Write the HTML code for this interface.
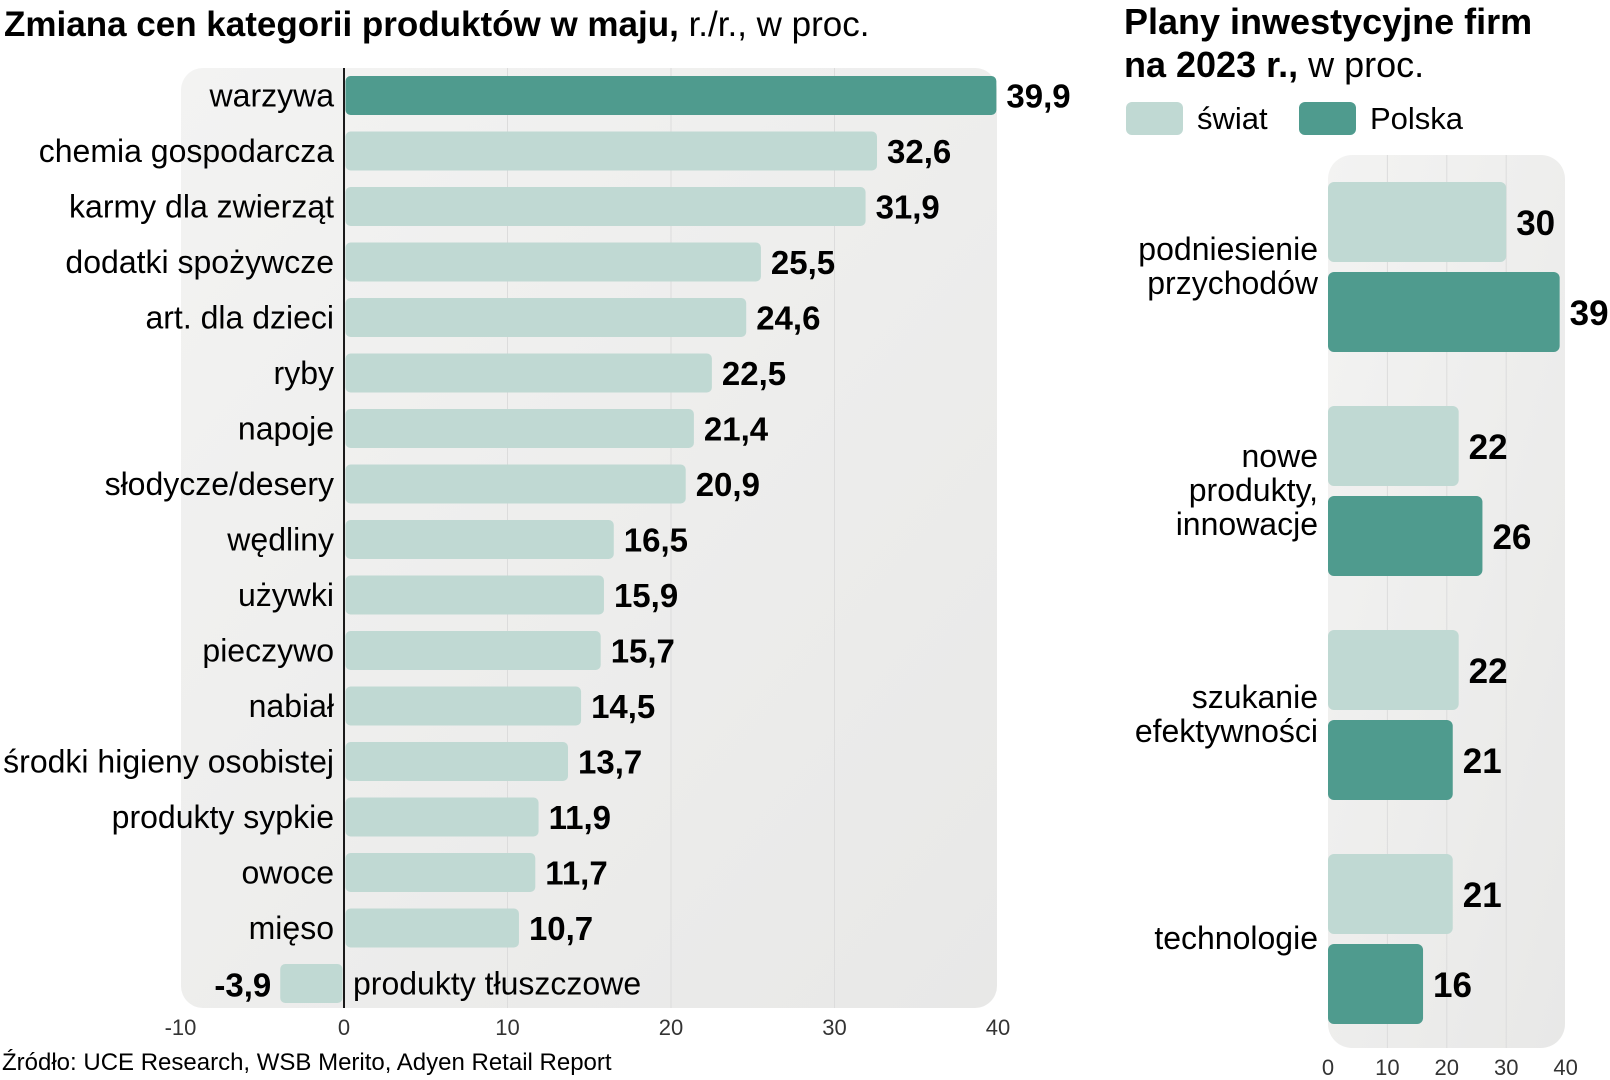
<!DOCTYPE html>
<html><head><meta charset="utf-8">
<style>
body{margin:0;width:1610px;height:1080px;background:#fff;overflow:hidden;font-family:"Liberation Sans",sans-serif;color:#1a1a1a}
svg{display:block}
.t{font-family:"Liberation Sans",sans-serif}
</style></head>
<body>
<svg id="c" width="1610" height="1080">
<defs>
<linearGradient id="bg" x1="0" y1="0" x2="1" y2="1"><stop offset="0" stop-color="#f3f3f2"/><stop offset="1" stop-color="#e8e8e7"/></linearGradient>
</defs>
<text x="4" y="36" font-size="35" font-weight="bold" class="t">Zmiana cen kategorii produktów w maju,<tspan font-weight="normal"> r./r., w proc.</tspan></text>
<rect x="181" y="68" width="816" height="940" rx="22" fill="url(#bg)"/>
<g id="L"></g>
<text x="2" y="1070" font-size="24" class="t">Źródło: UCE Research, WSB Merito, Adyen Retail Report</text>

<text x="1124" y="34" font-size="36" font-weight="bold" class="t">Plany inwestycyjne firm</text>
<text x="1124" y="77" font-size="36" font-weight="bold" class="t">na 2023 r.,<tspan font-weight="normal"> w proc.</tspan></text>
<rect x="1126" y="102" width="57" height="33" rx="6" fill="#c0d9d3"/>
<text x="1197" y="129" font-size="31" class="t">świat</text>
<rect x="1299" y="102" width="57" height="33" rx="6" fill="#4f9b8e"/>
<text x="1370" y="129" font-size="31" class="t">Polska</text>
<rect x="1328" y="155" width="237" height="893" rx="24" fill="url(#bg)"/>
<g id="R"></g>
</svg>
<script>
const cats=["warzywa","chemia gospodarcza","karmy dla zwierząt","dodatki spożywcze","art. dla dzieci","ryby","napoje","słodycze/desery","wędliny","używki","pieczywo","nabiał","środki higieny osobistej","produkty sypkie","owoce","mięso","produkty tłuszczowe"];
const vals=[39.9,32.6,31.9,25.5,24.6,22.5,21.4,20.9,16.5,15.9,15.7,14.5,13.7,11.9,11.7,10.7,-3.9];
const xTicks=[-10,0,10,20,30,40];
const rCats=[["podniesienie","przychodów"],["nowe","produkty,","innowacje"],["szukanie","efektywności"],["technologie"]];
const swiat=[30,22,22,21];
const polska=[39,26,21,16];
const rTicks=[0,10,20,30,40];

const NS="http://www.w3.org/2000/svg";
function mk(p,t,a,txt){const e=document.createElementNS(NS,t);for(const k in a)e.setAttribute(k,a[k]);if(txt!==undefined)e.textContent=txt;p.appendChild(e);return e;}
const fmt=v=>String(v).replace('.',',');
const L=document.getElementById('L');
const lx=v=>344+v*16.35;
const ly=i=>95.5+i*55.5;
xTicks.forEach(t=>{
 if(t!==0&&t>-10&&t<40){const g=mk(L,'line',{x1:lx(t),x2:lx(t),y1:68,y2:1008,stroke:'#dcdcdc','stroke-width':1});
 }
 const tl=mk(L,'text',{x:lx(t),y:1035,'font-size':22,'text-anchor':'middle',class:'t',fill:'#333'},t);
 
});
cats.forEach((c,i)=>{
 const v=vals[i],y=ly(i),h=39;
 const x0=Math.min(lx(0),lx(v))+(v>=0?1.5:0),w=Math.abs(lx(v)-lx(0))-1.5;
 const b=mk(L,'rect',{x:x0,y:y-h/2,width:w,height:h,rx:5,fill:i===0?'#4f9b8e':'#c0d9d3'});
 
 if(v>=0){
  const l=mk(L,'text',{x:334,y:y+11,'font-size':32,'text-anchor':'end',class:'t'},c);
  
  const vl=mk(L,'text',{x:lx(v)+10,y:y+12,'font-size':33,'font-weight':'bold',class:'t'},fmt(v));
  
 }else{
  const l=mk(L,'text',{x:353,y:y+11,'font-size':32,class:'t'},c);
  
  const vl=mk(L,'text',{x:lx(v)-9,y:y+13,'font-size':33,'font-weight':'bold','text-anchor':'end',class:'t'},fmt(v));
  
 }
});
const ax=mk(L,'line',{x1:lx(0),x2:lx(0),y1:68,y2:1008,stroke:'#1a1a1a','stroke-width':2});

const R=document.getElementById('R');
const rx=v=>1328+v*5.94;
rTicks.forEach(t=>{
 if(t>0&&t<40){const g=mk(R,'line',{x1:rx(t),x2:rx(t),y1:155,y2:1048,stroke:'#dcdcdc','stroke-width':1});
 }
 const tl=mk(R,'text',{x:rx(t),y:1075,'font-size':22,'text-anchor':'middle',class:'t',fill:'#333'},t);
 
});
rCats.forEach((lines,i)=>{
 const top=182+i*224;
 [[swiat[i],'#c0d9d3',top],[polska[i],'#4f9b8e',top+90]].forEach(([v,col,y],j)=>{
  const b=mk(R,'rect',{x:rx(0),y:y,width:rx(v)-rx(0),height:80,rx:6,fill:col});
  
  const vl=mk(R,'text',{x:rx(v)+10,y:y+53,'font-size':35,'font-weight':'bold',class:'t'},v);
  
 });
 const cy=top+85,lh=34,n=lines.length;
 lines.forEach((s,k)=>{
  const l=mk(R,'text',{x:1318,y:cy+(k-(n-1)/2)*lh+10,'font-size':32,'text-anchor':'end',class:'t'},s);
  
 });
});
</script>
</body></html>
